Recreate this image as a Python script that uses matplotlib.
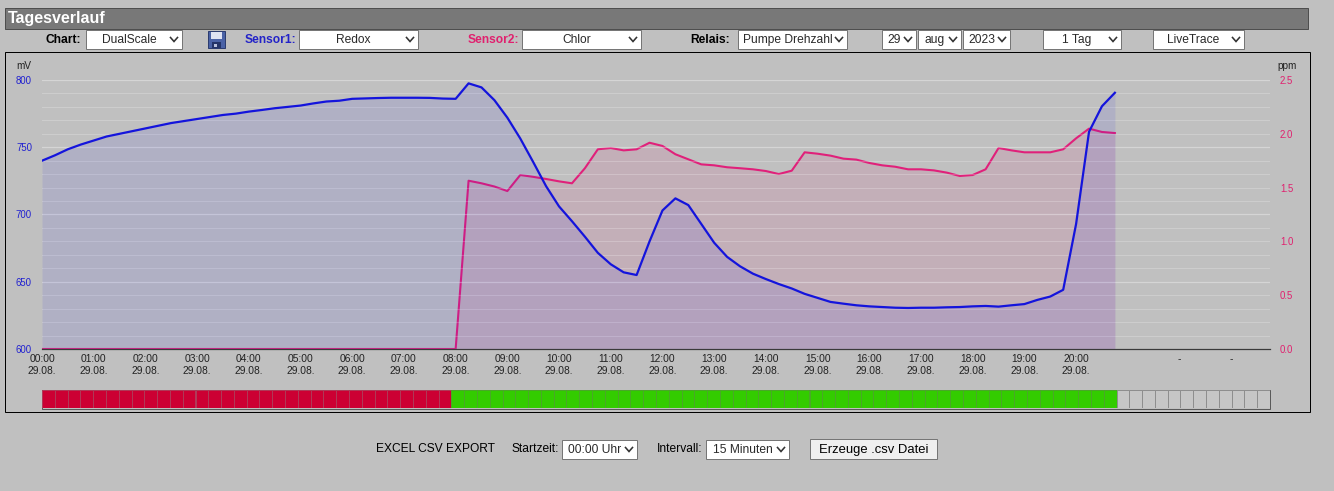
import numpy as np
import matplotlib
matplotlib.use("Agg")
import matplotlib.pyplot as plt
from matplotlib.patches import Rectangle

W, H = 1334, 491
BG = '#c0c0c0'

# ---------------- data (15-minute samples starting 00:00) ----------------
redox = [740, 744, 748.5, 752, 755, 758, 760, 762, 764, 766, 768, 769.5,
         771, 772.5, 774, 775, 776.5, 777.7, 779, 780, 781, 782.6, 784, 784.6,
         786, 786.3, 786.6, 786.8, 786.8, 786.8, 786.7, 786.2, 786, 797.5, 794.5, 785,
         772, 756.5, 739, 721, 706, 695, 683.5, 671.5, 663, 657, 655, 680,
         703, 712, 707, 693, 679, 668.5, 661.5, 656, 652, 648.3, 645, 641,
         638, 635, 633.7, 632.5, 631.7, 631.2, 630.7, 630.5, 630.7, 630.7, 631, 631.2,
         631.7, 632, 631.5, 632.5, 633.4, 636.5, 639, 644, 693, 761.5, 780.5, 790.5]

chlor = [0, 0, 0, 0, 0, 0, 0, 0, 0, 0, 0, 0,
         0, 0, 0, 0, 0, 0, 0, 0, 0, 0, 0, 0,
         0, 0, 0, 0, 0, 0, 0, 0, 0, 1.564, 1.54, 1.51,
         1.468, 1.617, 1.60, 1.58, 1.558, 1.54, 1.68, 1.856, 1.868, 1.846, 1.856, 1.917,
         1.887, 1.81, 1.763, 1.716, 1.707, 1.689, 1.68, 1.67, 1.654, 1.626, 1.657, 1.828,
         1.815, 1.797, 1.769, 1.76, 1.729, 1.707, 1.694, 1.67, 1.67, 1.66, 1.639, 1.608,
         1.617, 1.67, 1.868, 1.846, 1.828, 1.828, 1.828, 1.856, 1.958, 2.048, 2.017, 2.007]

# relay state per 15-minute slot: 0 = off (red), 1 = on (green), - = no data
relay_states = ("00000000000000000000000000000000"
                "1111111111111111111111111111111111111111111111111111"
                "------------")

hour_labels = ["00:00", "01:00", "02:00", "03:00", "04:00", "05:00", "06:00", "07:00",
               "08:00", "09:00", "10:00", "11:00", "12:00", "13:00", "14:00", "15:00",
               "16:00", "17:00", "18:00", "19:00", "20:00", "", "-", "-"]
date_label = "29.08."
left_ticks = [600, 650, 700, 750, 800]
right_ticks = [0.0, 0.5, 1.0, 1.5, 2.0, 2.5]

# ---------------- styling ----------------
plt.rcParams['font.family'] = ['Liberation Sans', 'DejaVu Sans']
PT = 0.72  # points per pixel at dpi=100

fig = plt.figure(figsize=(W / 100, H / 100), dpi=100, facecolor=BG)
ui = fig.add_axes([0, 0, 1, 1])
ui.set_xlim(0, W)
ui.set_ylim(H, 0)
ui.axis('off')


def rect(x0, y0, x1, y1, fc='none', ec='none', lw=1.0, z=1):
    r = Rectangle((x0, y0), x1 - x0, y1 - y0, facecolor=fc, edgecolor=ec,
                  linewidth=lw * PT, zorder=z)
    ui.add_patch(r)
    return r


def txt(x, y, s, px, ha='left', color='black', bold=False, z=3):
    return ui.text(x, y, s, fontsize=px * PT, ha=ha, va='center', color=color,
                   fontweight='bold' if bold else 'normal', zorder=z)


def chevron(xc, yc):
    ui.plot([xc - 3.5, xc, xc + 3.5], [yc - 2, yc + 2, yc - 2], color='#333333',
            lw=1.6 * PT, solid_joinstyle='miter', zorder=3)


def select(x0, x1, y0, y1, label, align='center'):
    rect(x0, y0, x1, y1, fc='white', ec='#767676', z=2)
    yc = (y0 + y1) / 2
    chevron(x1 - 8, yc)
    if align == 'center':
        txt((x0 + x1 - 14) / 2 + 2, yc + 0.5, label, 12, ha='center', color='#2a2a2a')
    else:
        t = txt(x0 + 5, yc + 0.5, label, 12, ha='left', color='#2a2a2a')
        clip = Rectangle((x0, y0), x1 - 17 - x0, y1 - y0, transform=ui.transData)
        t.set_clip_path(clip)


# title bar
rect(5, 7.5, 1308, 28.5, fc='#787878', ec='#4e4e4e')
txt(8, 18.5, "Tagesverlauf", 16, color='white', bold=True)

# control row
ROW = 39.5
txt(81, ROW, "Chart:", 12, ha='right', bold=True)
select(86, 182, 30, 49, "DualScale")
# floppy icon
rect(208, 31, 225, 48, fc='#4a62a6', ec='#2c3c70')
rect(211, 32, 222, 38.5, fc='#dfe3f2', ec='none')
rect(212, 42, 221, 48, fc='#243468', ec='none')
rect(214, 43.5, 217, 46.5, fc='#b8c0dc', ec='none')
txt(296, ROW, "Sensor1:", 12, ha='right', bold=True, color='#2323c8')
select(299, 418, 30, 49, "Redox")
txt(519, ROW, "Sensor2:", 12, ha='right', bold=True, color='#e0206e')
select(522, 641, 30, 49, "Chlor")
txt(730, ROW, "Relais:", 12, ha='right', bold=True)
select(738, 847, 30, 49, "Pumpe Drehzahl", align='left')
select(882, 916, 30, 49, "29")
select(918, 961, 30, 49, "aug")
select(963, 1010, 30, 49, "2023")
select(1043, 1121, 30, 49, "1 Tag")
select(1153, 1244, 30, 49, "LiveTrace")

# chart frame
rect(5, 51.5, 1310, 412, fc='none', ec='black')
txt(24, 66, "mV", 10, ha='center', color='#222222')
txt(1287, 66, "ppm", 10, ha='center', color='#222222')

# ---------------- main chart ----------------
ax = fig.add_axes([42 / W, (H - 349) / H, 1228 / W, 269 / H])
ax2 = ax.twinx()
ax.set_zorder(ax2.get_zorder() + 1)
ax.patch.set_visible(False)
ax2.patch.set_visible(False)

t = np.arange(len(redox)) * 0.25

ax2.fill_between(t, 0, chlor, color=(0.9, 0.12, 0.47), alpha=0.10, lw=0)
ax2.plot(t, chlor, color='#e0207a', lw=1.5, solid_joinstyle='round')
ax.fill_between(t, 600, redox, color=(0.0, 0.0, 1.0), alpha=0.08, lw=0)
ax.plot(t, redox, color='#1414dc', lw=1.6, solid_joinstyle='round')

ax.set_xlim(0, 23.75)
ax.set_ylim(600, 800)
ax2.set_ylim(0, 2.5)

ax.set_yticks(left_ticks)
ax.set_yticks(np.arange(610, 801, 10), minor=True)
ax.set_axisbelow(True)
ax.yaxis.grid(True, which='major', color='white', alpha=0.35, lw=0.9)
ax.yaxis.grid(True, which='minor', color='white', alpha=0.22, lw=0.8)
ax.tick_params(axis='y', which='both', length=0, labelsize=9.6 * PT,
               labelcolor='#2020d0', pad=10 * PT)

ax2.set_yticks(right_ticks)
ax2.set_yticklabels([f"{v:.1f}" for v in right_ticks])
ax2.tick_params(axis='y', length=0, labelsize=9.6 * PT, labelcolor='#e0206e', pad=10 * PT)

ax.set_xticks(np.arange(len(hour_labels)))
ax.set_xticklabels([f"{h}\n{date_label}" if ':' in h else h for h in hour_labels],
                   linespacing=1.25)
ax.tick_params(axis='x', length=0, labelsize=10.3 * PT, labelcolor='#222222', pad=5 * PT)

for a in (ax, ax2):
    for s in a.spines.values():
        s.set_visible(False)
ax.spines['bottom'].set_visible(True)
ax.spines['bottom'].set_color('#3a3a3a')
ax.spines['bottom'].set_linewidth(0.9)

# ---------------- relay bar ----------------
axr = fig.add_axes([42 / W, (H - 408) / H, 1228 / W, 18 / H])
axr.set_xlim(0, len(relay_states))
axr.set_ylim(0, 1)
axr.axis('off')
fill_map = {'0': '#cc0033', '1': '#33cc00', '-': '#c6c6c6'}
edge_map = {'0': '#b03a58', '1': '#4aa828', '-': '#8e8e8e'}
axr.bar(np.arange(len(relay_states)) + 0.5, 1, width=1,
        color=[fill_map[s] for s in relay_states],
        edgecolor=[edge_map[s] for s in relay_states], linewidth=0.7)
rect(42, 389.5, 1270, 408.5, fc='none', ec='#5a5a5a', z=5)

# ---------------- export row ----------------
ROW2 = 449.5
txt(376, ROW2, "EXCEL CSV EXPORT", 12)
txt(512, ROW2, "Startzeit:", 12)
select(562, 637, 440, 459, "00:00 Uhr")
txt(657, ROW2, "Intervall:", 12)
select(706, 789, 440, 459, "15 Minuten")
rect(810, 439, 937, 459, fc='#efefef', ec='#767676')
txt(873.5, ROW2, "Erzeuge .csv Datei", 13, ha='center')

fig.savefig("out.png", dpi=100, facecolor=BG)
